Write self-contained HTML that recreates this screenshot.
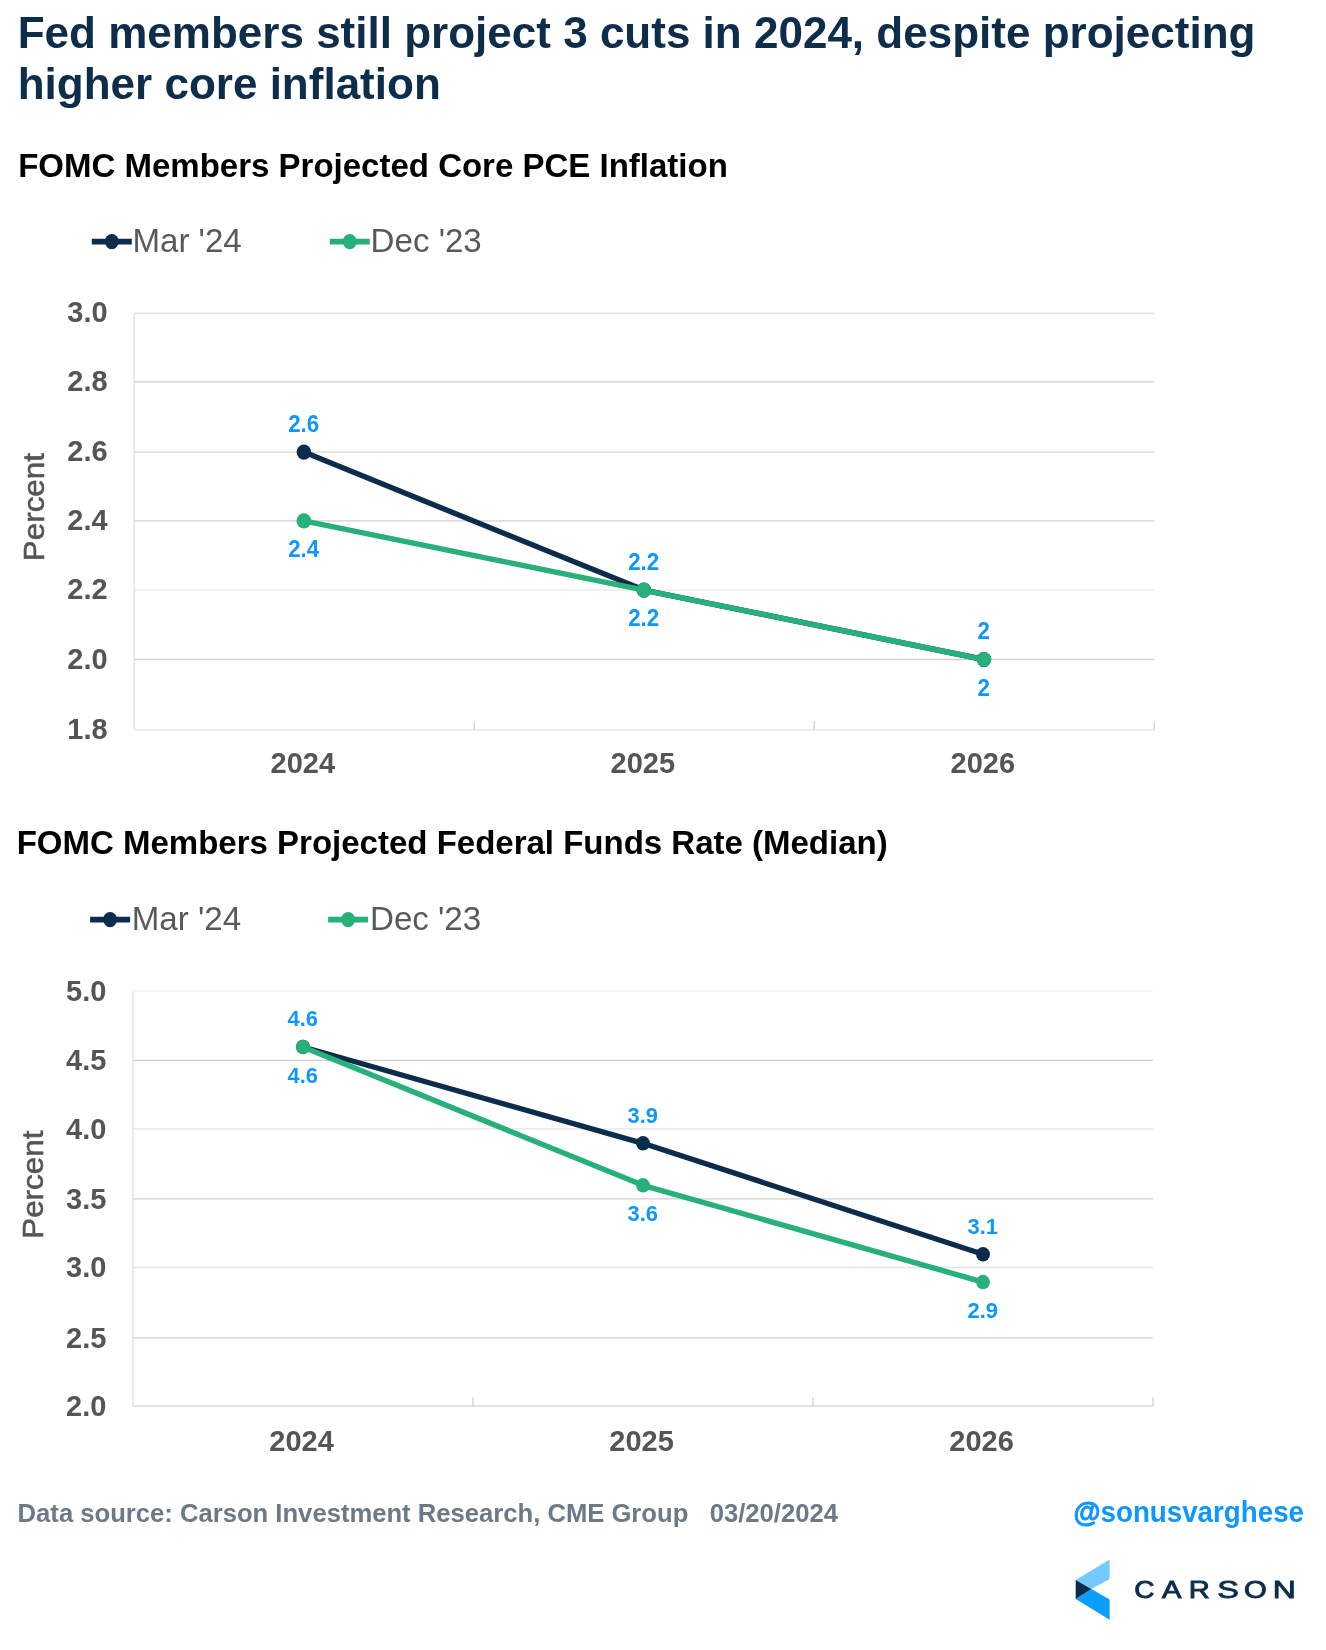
<!DOCTYPE html>
<html><head><meta charset="utf-8"><title>Fed members still project 3 cuts in 2024</title>
<style>
html,body{margin:0;padding:0;background:#fff;}
body{width:1326px;height:1650px;overflow:hidden;font-family:"Liberation Sans",sans-serif;}
svg{display:block;filter:blur(0.55px);}
text{font-family:"Liberation Sans",sans-serif;}
.ttl{font-size:44.02px;font-weight:bold;fill:#0E2D4A;}
.sub{font-size:33px;font-weight:bold;fill:#000;}
.lg{font-size:33.1px;fill:#595959;}
.ax{font-size:29px;font-weight:bold;fill:#555;}
.pc{font-size:29px;fill:#555;stroke:#555;stroke-width:.55px;}
.dl{font-size:22.3px;font-weight:bold;fill:#0E97FE;}
.dl2{font-size:21.9px;font-weight:bold;fill:#0E97FE;}
.ft{font-size:25.64px;font-weight:bold;fill:#6B7A86;white-space:pre;}
.tw{font-size:29.5px;font-weight:bold;fill:#0E97FE;}
.cs{font-size:23.2px;fill:#0B2D4B;stroke:#0B2D4B;stroke-width:1.0px;vector-effect:non-scaling-stroke;}
</style></head>
<body>
<svg width="1326" height="1650" viewBox="0 0 1326 1650">
<rect width="1326" height="1650" fill="#fff"/>
<text transform="translate(17.70,48.20)" class="ttl">Fed members still project 3 cuts in 2024, despite projecting</text>
<text transform="translate(17.70,99.20)" class="ttl">higher core inflation</text>
<text transform="translate(18.20,176.70)" class="sub">FOMC Members Projected Core PCE Inflation</text>
<line x1="91.80" y1="241.6" x2="131.80" y2="241.6" stroke="#0B2D4B" stroke-width="5.7"/>
<ellipse cx="111.80" cy="241.6" rx="7" ry="7.7" fill="#0B2D4B"/>
<text transform="translate(132.40,251.90) scale(1,1.014)" class="lg">Mar '24</text>
<line x1="329.80" y1="241.6" x2="369.80" y2="241.6" stroke="#27B07A" stroke-width="5.7"/>
<ellipse cx="349.80" cy="241.6" rx="7" ry="7.7" fill="#27B07A"/>
<text transform="translate(370.60,251.90) scale(1,1.014)" class="lg">Dec '23</text>
<line x1="134.2" y1="313.40" x2="1154.2" y2="313.40" stroke="#DDDDDD" stroke-width="1.3"/>
<line x1="134.2" y1="381.80" x2="1154.2" y2="381.80" stroke="#D0D0D0" stroke-width="1.3"/>
<line x1="134.2" y1="452.10" x2="1154.2" y2="452.10" stroke="#D9D9D9" stroke-width="1.3"/>
<line x1="134.2" y1="520.90" x2="1154.2" y2="520.90" stroke="#D0D0D0" stroke-width="1.3"/>
<line x1="134.2" y1="590.10" x2="1154.2" y2="590.10" stroke="#E8E8E8" stroke-width="1.3"/>
<line x1="134.2" y1="659.50" x2="1154.2" y2="659.50" stroke="#D0D0D0" stroke-width="1.3"/>
<line x1="134.2" y1="729.80" x2="1154.2" y2="729.80" stroke="#E2E2E2" stroke-width="1.3"/>
<line x1="134.2" y1="313.4" x2="134.2" y2="729.8" stroke="#DEDEDE" stroke-width="1.3"/>
<line x1="474.20" y1="721.00" x2="474.20" y2="729.8" stroke="#D2D2D2" stroke-width="1.3"/>
<line x1="814.20" y1="721.00" x2="814.20" y2="729.8" stroke="#D2D2D2" stroke-width="1.3"/>
<line x1="1154.20" y1="721.00" x2="1154.20" y2="729.8" stroke="#D2D2D2" stroke-width="1.3"/>
<text transform="translate(107.60,322.40) scale(1,1.03)" class="ax" text-anchor="end">3.0</text>
<text transform="translate(107.60,390.80) scale(1,1.03)" class="ax" text-anchor="end">2.8</text>
<text transform="translate(107.60,461.10) scale(1,1.03)" class="ax" text-anchor="end">2.6</text>
<text transform="translate(107.60,529.90) scale(1,1.03)" class="ax" text-anchor="end">2.4</text>
<text transform="translate(107.60,599.10) scale(1,1.03)" class="ax" text-anchor="end">2.2</text>
<text transform="translate(107.60,668.50) scale(1,1.03)" class="ax" text-anchor="end">2.0</text>
<text transform="translate(107.60,738.80) scale(1,1.03)" class="ax" text-anchor="end">1.8</text>
<text transform="translate(302.80,773.40) scale(1,1.03)" class="ax" text-anchor="middle">2024</text>
<text transform="translate(642.80,773.40) scale(1,1.03)" class="ax" text-anchor="middle">2025</text>
<text transform="translate(982.80,773.40) scale(1,1.03)" class="ax" text-anchor="middle">2026</text>
<text transform="translate(44.00,507.10) rotate(-90) scale(1.083,1)" class="pc" text-anchor="middle">Percent</text>
<polyline points="303.90,452.10 643.90,590.10 983.90,659.50" fill="none" stroke="#0B2D4B" stroke-width="5.4" stroke-linejoin="round" stroke-linecap="round"/>
<ellipse cx="303.90" cy="452.10" rx="7.3" ry="7.6" fill="#0B2D4B"/>
<ellipse cx="643.90" cy="590.10" rx="7.3" ry="7.6" fill="#0B2D4B"/>
<ellipse cx="983.90" cy="659.50" rx="7.3" ry="7.6" fill="#0B2D4B"/>
<polyline points="303.90,520.90 643.90,590.10 983.90,659.50" fill="none" stroke="#27B07A" stroke-width="5.4" stroke-linejoin="round" stroke-linecap="round"/>
<ellipse cx="303.90" cy="520.90" rx="7.3" ry="7.6" fill="#27B07A"/>
<ellipse cx="643.90" cy="590.10" rx="7.3" ry="7.6" fill="#27B07A"/>
<ellipse cx="983.90" cy="659.50" rx="7.3" ry="7.6" fill="#27B07A"/>
<text transform="translate(303.70,431.50) scale(1,1.035)" class="dl" text-anchor="middle">2.6</text>
<text transform="translate(643.70,569.50) scale(1,1.035)" class="dl" text-anchor="middle">2.2</text>
<text transform="translate(983.70,638.90) scale(1,1.035)" class="dl" text-anchor="middle">2</text>
<text transform="translate(303.70,556.90) scale(1,1.035)" class="dl" text-anchor="middle">2.4</text>
<text transform="translate(643.70,626.10) scale(1,1.035)" class="dl" text-anchor="middle">2.2</text>
<text transform="translate(983.70,695.50) scale(1,1.035)" class="dl" text-anchor="middle">2</text>
<text transform="translate(16.70,853.50)" class="sub">FOMC Members Projected Federal Funds Rate (Median)</text>
<line x1="90.10" y1="919.6" x2="130.10" y2="919.6" stroke="#0B2D4B" stroke-width="5.7"/>
<ellipse cx="110.10" cy="919.6" rx="7" ry="7.7" fill="#0B2D4B"/>
<text transform="translate(131.80,929.90) scale(1,1.014)" class="lg">Mar '24</text>
<line x1="328.10" y1="919.6" x2="368.10" y2="919.6" stroke="#27B07A" stroke-width="5.7"/>
<ellipse cx="348.10" cy="919.6" rx="7" ry="7.7" fill="#27B07A"/>
<text transform="translate(370.00,929.90) scale(1,1.014)" class="lg">Dec '23</text>
<line x1="133" y1="991.20" x2="1153" y2="991.20" stroke="#EFEFEF" stroke-width="1.3"/>
<line x1="133" y1="1060.30" x2="1153" y2="1060.30" stroke="#D0D0D0" stroke-width="1.3"/>
<line x1="133" y1="1128.80" x2="1153" y2="1128.80" stroke="#E4E4E4" stroke-width="1.3"/>
<line x1="133" y1="1198.80" x2="1153" y2="1198.80" stroke="#D0D0D0" stroke-width="1.3"/>
<line x1="133" y1="1267.50" x2="1153" y2="1267.50" stroke="#E4E4E4" stroke-width="1.3"/>
<line x1="133" y1="1337.80" x2="1153" y2="1337.80" stroke="#D0D0D0" stroke-width="1.3"/>
<line x1="133" y1="1406.10" x2="1153" y2="1406.10" stroke="#D2D2D2" stroke-width="1.3"/>
<line x1="133" y1="991.2" x2="133" y2="1406.1" stroke="#DEDEDE" stroke-width="1.3"/>
<line x1="473.00" y1="1397.30" x2="473.00" y2="1406.1" stroke="#D2D2D2" stroke-width="1.3"/>
<line x1="813.00" y1="1397.30" x2="813.00" y2="1406.1" stroke="#D2D2D2" stroke-width="1.3"/>
<line x1="1153.00" y1="1397.30" x2="1153.00" y2="1406.1" stroke="#D2D2D2" stroke-width="1.3"/>
<text transform="translate(106.40,1000.90) scale(1,1.02)" class="ax" text-anchor="end">5.0</text>
<text transform="translate(106.40,1070.00) scale(1,1.02)" class="ax" text-anchor="end">4.5</text>
<text transform="translate(106.40,1138.50) scale(1,1.02)" class="ax" text-anchor="end">4.0</text>
<text transform="translate(106.40,1208.50) scale(1,1.02)" class="ax" text-anchor="end">3.5</text>
<text transform="translate(106.40,1277.20) scale(1,1.02)" class="ax" text-anchor="end">3.0</text>
<text transform="translate(106.40,1347.50) scale(1,1.02)" class="ax" text-anchor="end">2.5</text>
<text transform="translate(106.40,1415.80) scale(1,1.02)" class="ax" text-anchor="end">2.0</text>
<text transform="translate(301.60,1450.50) scale(1,1.02)" class="ax" text-anchor="middle">2024</text>
<text transform="translate(641.60,1450.50) scale(1,1.02)" class="ax" text-anchor="middle">2025</text>
<text transform="translate(981.60,1450.50) scale(1,1.02)" class="ax" text-anchor="middle">2026</text>
<text transform="translate(42.80,1184.70) rotate(-90) scale(1.083,1)" class="pc" text-anchor="middle">Percent</text>
<polyline points="303.00,1046.98 643.00,1143.30 983.00,1254.26" fill="none" stroke="#0B2D4B" stroke-width="5.4" stroke-linejoin="round" stroke-linecap="round"/>
<ellipse cx="303.00" cy="1046.98" rx="6.95" ry="7.25" fill="#0B2D4B"/>
<ellipse cx="643.00" cy="1143.30" rx="6.95" ry="7.25" fill="#0B2D4B"/>
<ellipse cx="983.00" cy="1254.26" rx="6.95" ry="7.25" fill="#0B2D4B"/>
<polyline points="303.00,1046.98 643.00,1185.30 983.00,1282.06" fill="none" stroke="#27B07A" stroke-width="5.4" stroke-linejoin="round" stroke-linecap="round"/>
<ellipse cx="303.00" cy="1046.98" rx="6.95" ry="7.25" fill="#27B07A"/>
<ellipse cx="643.00" cy="1185.30" rx="6.95" ry="7.25" fill="#27B07A"/>
<ellipse cx="983.00" cy="1282.06" rx="6.95" ry="7.25" fill="#27B07A"/>
<text transform="translate(302.80,1026.28) scale(1,0.98)" class="dl2" text-anchor="middle">4.6</text>
<text transform="translate(642.80,1122.60) scale(1,0.98)" class="dl2" text-anchor="middle">3.9</text>
<text transform="translate(982.80,1233.56) scale(1,0.98)" class="dl2" text-anchor="middle">3.1</text>
<text transform="translate(302.80,1082.98) scale(1,0.98)" class="dl2" text-anchor="middle">4.6</text>
<text transform="translate(642.80,1221.30) scale(1,0.98)" class="dl2" text-anchor="middle">3.6</text>
<text transform="translate(982.80,1318.06) scale(1,0.98)" class="dl2" text-anchor="middle">2.9</text>
<text transform="translate(17.60,1521.50)" class="ft" xml:space="preserve">Data source: Carson Investment Research, CME Group   03/20/2024</text>
<text transform="translate(1073.50,1522.00)" class="tw" textLength="230.5" lengthAdjust="spacingAndGlyphs"><tspan stroke="#0E97FE" stroke-width="0.9">@</tspan>sonusvarghese</text>
<polygon points="1109.6,1559.5 1075.7,1580 1091.4,1589 1109.6,1579.1" fill="#74C9FF"/>
<polygon points="1075.7,1599 1091.4,1589 1109.6,1599.4 1109.6,1619.8" fill="#0A9FFF"/>
<polygon points="1075.7,1580 1091.4,1589 1075.7,1599" fill="#0B2D4B"/>
<text transform="translate(1134.30,1597.6) scale(1.204,1)" class="cs">C</text>
<text transform="translate(1161.90,1597.6) scale(1.254,1)" class="cs">A</text>
<text transform="translate(1188.77,1597.6) scale(1.257,1)" class="cs">R</text>
<text transform="translate(1217.28,1597.6) scale(1.399,1)" class="cs">S</text>
<text transform="translate(1243.94,1597.6) scale(1.261,1)" class="cs">O</text>
<text transform="translate(1272.64,1597.6) scale(1.378,1)" class="cs">N</text>
</svg>
</body></html>
